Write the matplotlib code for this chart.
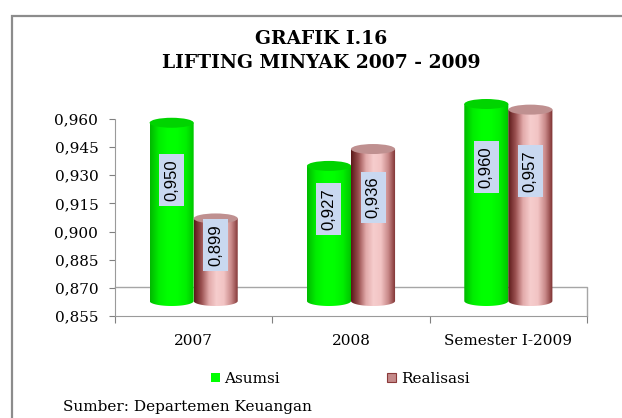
import numpy as np
import matplotlib.pyplot as plt
from matplotlib.patches import Ellipse, Rectangle, Patch, PathPatch
from matplotlib.path import Path
from matplotlib.colors import LinearSegmentedColormap

categories = ['2007', '2008', 'Semester I-2009']
asumsi = [0.950, 0.927, 0.960]
realisasi = [0.899, 0.936, 0.957]
yticks = [0.855, 0.870, 0.885, 0.900, 0.915, 0.930, 0.945, 0.960]

def fmt(v):
    return f'{v:.3f}'.replace('.', ',')

W, H = 622, 418
fig = plt.figure(figsize=(W / 100, H / 100), dpi=100)

# grey frame (cut off on the right and bottom like the scan)
fig.patches.append(Rectangle((12 / W, -0.1), 1.2, 1.1 - 16 / H, transform=fig.transFigure,
                             fill=False, edgecolor='#8c8c8c', lw=1.6))

fig.text(0.516, 1 - 39 / H, 'GRAFIK I.16', ha='center', va='center',
         family='DejaVu Serif', weight='bold', size=13.5)
fig.text(0.516, 1 - 63 / H, 'LIFTING MINYAK 2007 - 2009', ha='center', va='center',
         family='DejaVu Serif', weight='bold', size=13.5)

ax = fig.add_axes([115 / W, 1 - 316 / H, 472 / W, 197 / H])
ax.set_xlim(0, 3)
ax.set_ylim(0.855, 0.960)

# front plane of the 3d bars: same scale, shifted up 15 px, taller so nothing is clipped
s = 0.105 / 197
axb = fig.add_axes([115 / W, 1 - 320 / H, 472 / W, 240 / H])
axb.axis('off')

green = LinearSegmentedColormap.from_list('g', ['#00b800', '#00ee00', '#00ff00', '#00ff00', '#00f000', '#00c000'])
red = LinearSegmentedColormap.from_list('r', ['#5a1818', '#9a5050', '#e2aaaa', '#f6cdcd', '#f2c4c4',
                                              '#c88888', '#7a2c2c'])
base = 0.855
eh = 10 * s


def cylinder(a, x0, w, top, cmap, cap):
    cx = x0 + w / 2
    t = np.linspace(np.pi, 2 * np.pi, 40)
    xs = cx + (w / 2) * np.cos(t)
    ys = base + (eh / 2) * np.sin(t)
    verts = [(x0, top)] + list(zip(xs, ys)) + [(x0 + w, top), (x0, top)]
    codes = [Path.MOVETO] + [Path.LINETO] * (len(verts) - 2) + [Path.CLOSEPOLY]
    clip = PathPatch(Path(verts, codes), facecolor='none', edgecolor='none')
    a.add_patch(clip)
    grad = np.linspace(0, 1, 256).reshape(1, -1)
    im = a.imshow(grad, extent=[x0, x0 + w, base - eh, top], cmap=cmap, aspect='auto',
                  origin='lower', zorder=2)
    im.set_clip_path(clip)
    a.add_patch(Ellipse((cx, top), w, eh, facecolor=cap, edgecolor='none', zorder=3))


bw = 0.28
for i, (va, vr) in enumerate(zip(asumsi, realisasi)):
    c = i + 0.5
    for x0, v, cmap, cap in [(c - bw, va, green, '#00d400'), (c, vr, red, '#bf9090')]:
        cylinder(axb, x0, bw, v, cmap, cap)
        axb.text(x0 + bw / 2, base + 0.68 * (v - base), fmt(v), rotation=90,
                 ha='center', va='center', family='Liberation Sans', size=12, zorder=5,
                 bbox=dict(boxstyle='square,pad=0.3', facecolor='#c9d8f0', edgecolor='none'))

axb.set_xlim(0, 3)
axb.set_ylim(base - 19 * s, base + 221 * s)

# back floor edge
ax.plot([0, 1, 1], [0.147, 0.147, 0], transform=ax.transAxes, color='#a6a6a6', lw=1, clip_on=False)

for sp in ('top', 'right'):
    ax.spines[sp].set_visible(False)
for sp in ('left', 'bottom'):
    ax.spines[sp].set_color('#9a9a9a')
    ax.spines[sp].set_linestyle((0, (1, 1)))

ax.set_yticks(yticks)
ax.set_yticklabels([fmt(v) for v in yticks], family='DejaVu Serif', size=11)
ax.tick_params(axis='y', length=4, color='#808080', pad=8)
ax.set_xticks([0, 1, 2, 3])
ax.set_xticklabels([''] * 4)
ax.tick_params(axis='x', which='major', length=5, color='#808080')
ax.set_xticks([0.5, 1.5, 2.5], minor=True)
ax.set_xticklabels(categories, minor=True, family='DejaVu Serif', size=11)
ax.tick_params(axis='x', which='minor', length=0, pad=13)

font = {'family': 'DejaVu Serif', 'size': 11}
fig.legend(handles=[Patch(facecolor='#00ff00', edgecolor='none'),
                    Patch(facecolor='#c48a8a', edgecolor='#8b3a3a', lw=0.8)],
           labels=['Asumsi', 'Realisasi'], ncol=2, loc='center',
           bbox_to_anchor=(340 / W, 1 - 379 / H), frameon=False, handlelength=0.6,
           handleheight=0.6, handletextpad=0.3, columnspacing=7, prop=font)

fig.text(63 / W, 1 - 407 / H, 'Sumber: Departemen Keuangan', ha='left', va='center', **font)

fig.savefig('out.png', dpi=100)
